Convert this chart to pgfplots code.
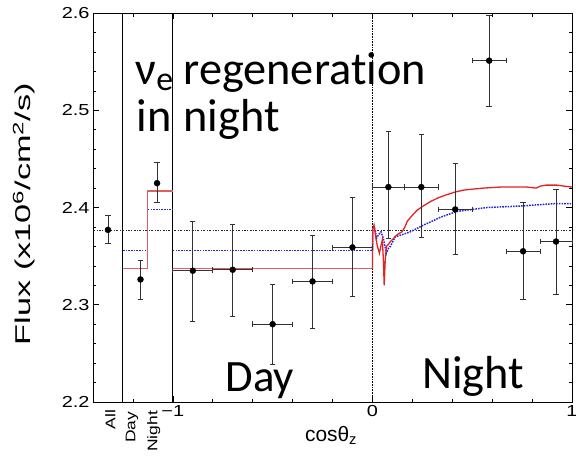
\documentclass[border=0pt]{standalone}
\usepackage{fontspec}
\usepackage{pgfplots}
\usepackage{pgfplotstable}
\pgfplotsset{compat=1.18}
\setmainfont{Liberation Sans}
\newfontfamily\pf[FakeStretch=1.25]{Liberation Sans}
\newfontfamily\yf[FakeStretch=1.6]{Liberation Sans}
\newfontfamily\cf[Ligatures=NoCommon]{Carlito}
\definecolor{myred}{RGB}{225,35,35}
\definecolor{palered}{RGB}{222,95,95}
\definecolor{myblue}{RGB}{40,40,215}
\definecolor{ebar}{RGB}{50,50,50}

\pgfplotstableread{
x y eym eyp
-1.325 2.377 0.014 0.015
-1.162 2.326 0.021 0.020
-1.079 2.425 0.020 0.021
}\sidepts

\pgfplotstableread{
x y exm exp eym eyp
-0.9 2.335 0.1 0.1 0.052 0.051
-0.7 2.336 0.1 0.1 0.048 0.047
-0.5 2.280 0.1 0.1 0.041 0.041
-0.3 2.324 0.1 0.1 0.048 0.047
-0.1 2.359 0.1 0.1 0.050 0.051
0.08 2.421 0.08 0.08 0.053 0.057
0.245 2.421 0.085 0.085 0.052 0.054
0.415 2.398 0.085 0.085 0.046 0.047
0.585 2.551 0.085 0.085 0.047 0.046
0.755 2.355 0.085 0.085 0.050 0.050
0.92 2.365 0.08 0.08 0.054 0.054
}\mainpts

\pgfplotstableread{
x y
0.000 2.337
0.002 2.378
0.008 2.382
0.015 2.372
0.025 2.360
0.035 2.353
0.042 2.360
0.050 2.367
0.055 2.345
0.059 2.320
0.064 2.345
0.070 2.360
0.080 2.362
0.090 2.365
0.105 2.368
0.123 2.372
0.148 2.375
0.163 2.380
0.175 2.386
0.200 2.392
0.223 2.397
0.250 2.401
0.290 2.406
0.330 2.410
0.370 2.413
0.416 2.416
0.460 2.418
0.508 2.419
0.560 2.420
0.640 2.421
0.700 2.421
0.775 2.421
0.820 2.420
0.842 2.422
0.870 2.423
0.925 2.423
0.960 2.422
1.000 2.421
}\redcurve

\pgfplotstableread{
x y
0.000 2.356
0.002 2.376
0.008 2.380
0.015 2.376
0.020 2.368
0.030 2.372
0.043 2.375
0.055 2.368
0.065 2.358
0.070 2.353
0.080 2.358
0.090 2.360
0.105 2.366
0.115 2.370
0.148 2.372
0.190 2.375
0.257 2.382
0.300 2.386
0.341 2.390
0.425 2.396
0.500 2.398
0.575 2.400
0.692 2.401
0.780 2.402
0.842 2.403
0.920 2.404
1.000 2.404
}\bluecurve

\begin{document}
\begin{tikzpicture}
\begin{axis}[
  scale only axis, width=479bp, height=389bp,
  xmin=-1.4, xmax=1, ymin=2.2, ymax=2.6,
  /pgf/number format/assume math mode=true,
  xtick={-1,0,1}, xticklabels={−1,0,1},
  minor xtick={-1.1975,-0.8,-0.6,-0.4,-0.2,0.2,0.4,0.6,0.8},
  ytick={2.2,2.3,2.4,2.5,2.6}, yticklabels={2.2,2.3,2.4,2.5,2.6},
  minor ytick={2.22,2.24,2.26,2.28,2.32,2.34,2.36,2.38,2.42,2.44,2.46,2.48,2.52,2.54,2.56,2.58},
  tick align=inside, major tick length=6bp, minor tick length=3.5bp,
  tick style={black, line width=0.6bp},
  axis line style={line width=0.9bp},
  ticklabel style={font=\pf\fontsize{16}{18}\selectfont},
  xlabel={cosθ\textsubscript{z}},
  xlabel style={font=\fontsize{21}{24}\selectfont, at={(axis description cs:0.497,0)}, anchor=base, yshift=-39.7bp},
  ylabel={Flux (x10\textsuperscript{6}/cm\textsuperscript{2}/s)},
  ylabel style={font=\yf\fontsize{21.5}{24}\selectfont, at={(axis description cs:-0.144,0.483)}, anchor=center},
  clip=false,
]
% separators
\addplot[black, line width=0.9bp] coordinates {(-1.25,2.2) (-1.25,2.6)};
\addplot[black, line width=0.9bp] coordinates {(-1,2.2) (-1,2.6)};
\addplot[black, line width=0.6bp, densely dotted] coordinates {(0,2.2) (0,2.6)};
% average line
\addplot[black!85, line width=0.6bp, dash pattern=on 2bp off 1.6bp on 0.6bp off 1.6bp] coordinates {(-1.4,2.377) (1,2.377)};
% blue model
\addplot[myblue, line width=1.5bp, dash pattern=on 1.6bp off 1.1bp] coordinates {(-1.25,2.356) (-1.125,2.356)};
\addplot[myblue, line width=1.5bp, dash pattern=on 1.6bp off 1.1bp] coordinates {(-1.125,2.398) (-1,2.398)};
\addplot[myblue, line width=1.5bp, dash pattern=on 1.6bp off 1.1bp] coordinates {(-1,2.356) (0,2.356)};
\addplot[myblue, line width=1.5bp, dash pattern=on 1.6bp off 1.1bp] table[x=x,y=y]{\bluecurve};
% red model
\addplot[palered, line width=1.1bp] coordinates {(-1.25,2.337) (-1.125,2.337) (-1.125,2.417) (-1,2.417)};
\addplot[palered, line width=1.1bp] coordinates {(-1,2.337) (0,2.337)};
\addplot[myred, line width=1.3bp] table[x=x,y=y]{\redcurve};
% data
\addplot[only marks, mark=*, mark size=3bp, black,
  error bars/.cd, y dir=both, y explicit,
  error bar style={ebar, line width=0.9bp},
  error mark options={ebar, rotate=90, mark size=2.7bp, line width=0.9bp}]
  table[x=x, y=y, y error plus=eyp, y error minus=eym]{\sidepts};
\addplot[only marks, mark=*, mark size=3bp, black,
  error bars/.cd, y dir=both, y explicit, x dir=both, x explicit,
  error bar style={ebar, line width=0.9bp},
  error mark options={ebar, rotate=90, mark size=2.7bp, line width=0.9bp}]
  table[x=x, y=y, x error plus=exp, x error minus=exm, y error plus=eyp, y error minus=eym]{\mainpts};
% category labels
\node[font=\pf\fontsize{14}{16}\selectfont, rotate=90, anchor=east, inner sep=0] at (axis cs:-1.313,2.192) {All};
\node[font=\pf\fontsize{14}{16}\selectfont, rotate=90, anchor=east, inner sep=0] at (axis cs:-1.204,2.190) {Day};
\node[font=\pf\fontsize{14}{16}\selectfont, rotate=90, anchor=east, inner sep=0] at (axis cs:-1.096,2.191) {Night};
% overlay text
\node[font=\cf\fontsize{46.5}{50}\selectfont, anchor=base west, inner sep=0] at (axis cs:-1.1875,2.526) {ν\raisebox{-6bp}{\fontsize{34}{34}\selectfont e}};
\node[font=\cf\fontsize{46.5}{50}\selectfont, anchor=base west, inner sep=0] at (axis cs:-0.9475,2.526) {regeneration};
\node[font=\cf\fontsize{46.5}{50}\selectfont, anchor=base west, inner sep=0] at (axis cs:-1.1825,2.478) {in};
\node[font=\cf\fontsize{46.5}{50}\selectfont, anchor=base west, inner sep=0] at (axis cs:-0.9475,2.478) {night};
\node[font=\cf\fontsize{45}{50}\selectfont, anchor=base west, inner sep=0] at (axis cs:-0.7365,2.2113) {Day};
\node[font=\cf\fontsize{46.5}{50}\selectfont, anchor=base west, inner sep=0] at (axis cs:0.249,2.2142) {Night};
\coordinate (BL) at (rel axis cs:0,0);
\end{axis}
\pgfresetboundingbox
\path ([shift={(-93bp,-54bp)}]BL) rectangle ([shift={(483bp,402bp)}]BL);
\end{tikzpicture}
\end{document}
